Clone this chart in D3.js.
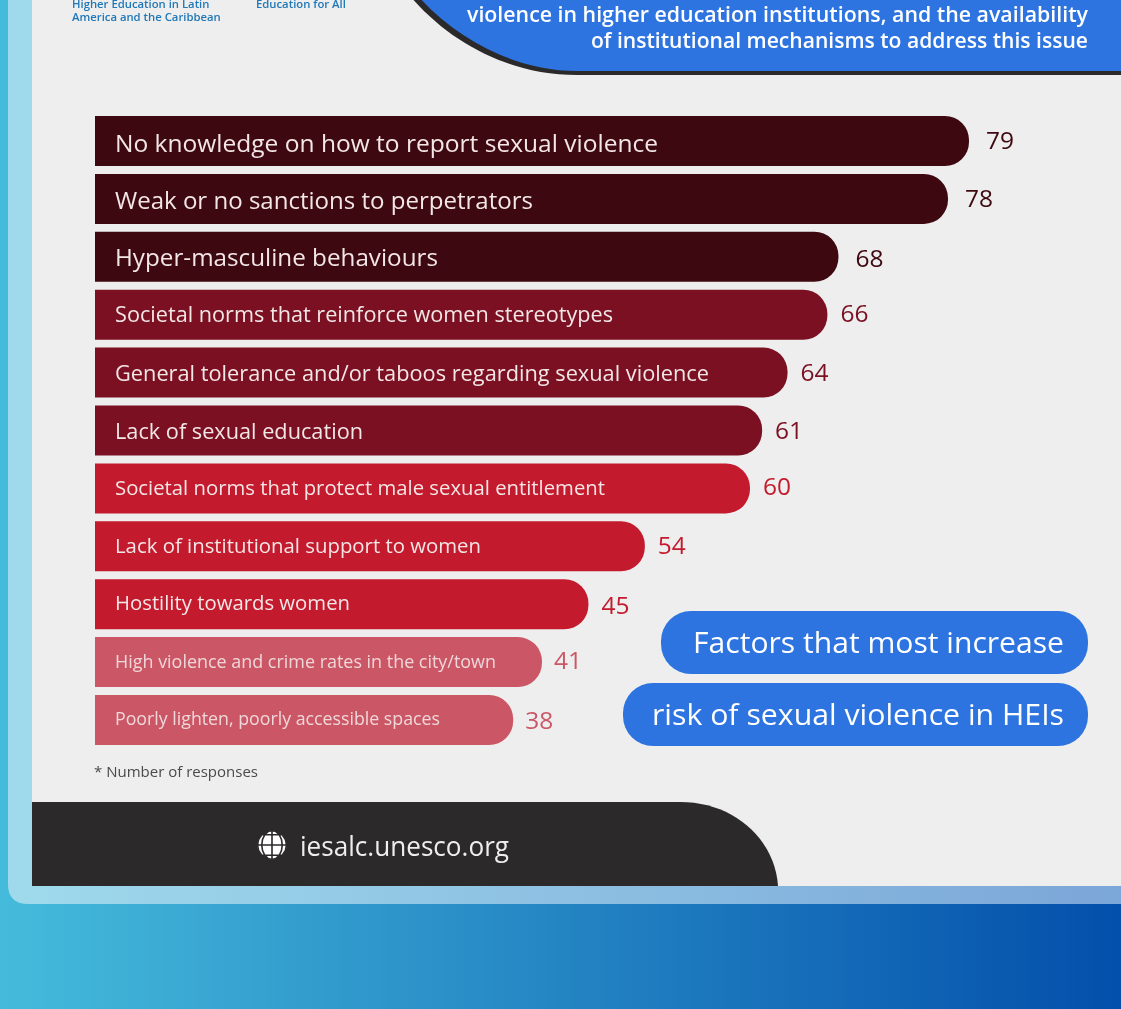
<!DOCTYPE html>
<html>
<head>
<meta charset="utf-8">
<script src="https://cdn.jsdelivr.net/npm/d3@7"></script>
<style>
  html, body { margin: 0; padding: 0; background: #0350ab; overflow: hidden; }
  svg { display: block; filter: blur(0.6px); }
  text { font-family: "Open Sans", "Noto Sans", sans-serif; }
</style>
</head>
<body>
<div id="chart"></div>
<script>
const factors = [
  "No knowledge on how to report sexual violence",
  "Weak or no sanctions to perpetrators",
  "Hyper-masculine behaviours",
  "Societal norms that reinforce women stereotypes",
  "General tolerance and/or taboos regarding sexual violence",
  "Lack of sexual education",
  "Societal norms that protect male sexual entitlement",
  "Lack of institutional support to women",
  "Hostility towards women",
  "High violence and crime rates in the city/town",
  "Poorly lighten, poorly accessible spaces"
];
// printed numbers
const responses = [79, 78, 68, 66, 64, 61, 60, 54, 45, 41, 38];
// the bars in the picture are not quite to scale, this is their length as drawn
const drawnLength = [79, 77.1, 67.2, 66.2, 62.6, 60.3, 59.2, 49.7, 44.6, 40.4, 37.8];
const tiers = [0, 0, 0, 1, 1, 1, 2, 2, 2, 3, 3];

const headerLines = [
  "violence in higher education institutions, and the availability",
  "of institutional mechanisms to address this issue"
];
const pillLines = ["Factors that most increase", "risk of sexual violence in HEIs"];
const logoLeft = ["Higher Education in Latin", "America and the Caribbean"];
const logoRight = ["Education for All"];

// styling
const tierColor = ["#3d0810", "#7b1022", "#c41a2d", "#cb5766"];
const tierFont = [24.5, 22, 20.3, 17.8];
const tierGap = [17, 13, 13, 12];
const labelWidth = [543, 418, 323, 498, 594, 248, 490, 366, 235, 381, 325];
const labelShift = [3, 3, 2, 0, 2, 2, 0, 0, -1, 0, -1];
const valueShift = [0, 1, 3, 0, 1, 1, -1, 0, 2, -1, 1];
const headerWidth = [621, 497];
const pillTextWidth = [371, 412];

const width = 1121, height = 1009;
const blue = "#2d74e0";

const svg = d3.select("#chart").append("svg")
    .attr("width", width)
    .attr("height", height);

// background gradients
const defs = svg.append("defs");
const bgGrad = defs.append("linearGradient").attr("id", "bg");
bgGrad.append("stop").attr("offset", "0%").attr("stop-color", "#45bbdb");
bgGrad.append("stop").attr("offset", "100%").attr("stop-color", "#034fab");
const frameGrad = defs.append("linearGradient").attr("id", "frame");
frameGrad.append("stop").attr("offset", "0%").attr("stop-color", "#9fdaec");
frameGrad.append("stop").attr("offset", "100%").attr("stop-color", "#7ba6d8");

svg.append("rect").attr("width", width).attr("height", height).attr("fill", "url(#bg)");
svg.append("path")
    .attr("d", "M8,0V884Q8,904 28,904H1121V0Z")
    .attr("fill", "url(#frame)");
svg.append("rect")
    .attr("x", 32).attr("y", 0)
    .attr("width", width - 32).attr("height", 886)
    .attr("fill", "#eeeeee");

// header blob
svg.append("path").attr("d", "M410,-4C452,45 512,75 577,75H1121V-4Z").attr("fill", "#2b292a");
svg.append("path").attr("d", "M418,-4C458,41 518,71 577,71H1121V-4Z").attr("fill", blue);

svg.append("g").selectAll("text")
  .data(headerLines)
  .join("text")
    .attr("x", 1088)
    .attr("y", (d, i) => 21.5 + i * 26.5)
    .attr("text-anchor", "end")
    .attr("fill", "#fff")
    .attr("font-size", 21)
    .attr("font-weight", 600)
    .attr("textLength", (d, i) => headerWidth[i])
    .attr("lengthAdjust", "spacingAndGlyphs")
    .text(d => d);

// logo captions, cut off by the top of the picture
svg.append("g").selectAll("text")
  .data(logoLeft)
  .join("text")
    .attr("x", 72)
    .attr("y", (d, i) => 7.5 + i * 13)
    .attr("fill", "#1f78b8")
    .attr("font-size", 11.3)
    .attr("font-weight", 600)
    .text(d => d);
svg.append("g").selectAll("text")
  .data(logoRight)
  .join("text")
    .attr("x", 256)
    .attr("y", 7.5)
    .attr("fill", "#1f78b8")
    .attr("font-size", 11.3)
    .attr("font-weight", 600)
    .text(d => d);

// scales
const x = d3.scaleLinear().domain([0, 79]).range([95, 969]);
const y = d3.scaleBand().domain(factors).range([116, 745]).paddingInner(0.136);

function barPath(len, top, h) {
  const r = 24;
  const right = x(len);
  return `M${x(0)},${top}H${right - r}A${r},${r} 0 0 1 ${right},${top + r}V${top + h - r}A${r},${r} 0 0 1 ${right - r},${top + h}H${x(0)}Z`;
}

const rows = factors.map((f, i) => ({
  factor: f, value: responses[i], len: drawnLength[i], tier: tiers[i], i: i
}));

const bars = svg.append("g").selectAll("g")
  .data(rows)
  .join("g");

bars.append("path")
    .attr("d", d => barPath(d.len, y(d.factor), y.bandwidth()))
    .attr("fill", d => tierColor[d.tier]);

bars.append("text")
    .attr("x", 115)
    .attr("y", d => y(d.factor) + y.bandwidth() / 2 + 1 + labelShift[d.i])
    .attr("dominant-baseline", "middle")
    .attr("fill", "#f3e6e6")
    .attr("fill-opacity", d => d.tier === 3 ? 0.9 : 1)
    .attr("font-size", d => tierFont[d.tier])
    .attr("textLength", d => labelWidth[d.i])
    .attr("lengthAdjust", "spacingAndGlyphs")
    .text(d => d.factor);

bars.append("text")
    .attr("x", d => x(d.len) + tierGap[d.tier])
    .attr("y", d => y(d.factor) + y.bandwidth() / 2 + 1 + valueShift[d.i])
    .attr("dominant-baseline", "middle")
    .attr("fill", d => tierColor[d.tier])
    .attr("font-size", 24.5)
    .attr("font-weight", 500)
    .text(d => d.value);

svg.append("text")
    .attr("x", 94)
    .attr("y", 777)
    .attr("fill", "#4a4a4a")
    .attr("font-size", 15)
    .text("* Number of responses");

// pills
const pillX = [661, 623];
const pillY = [611, 683];
const pills = svg.append("g").selectAll("g").data(pillLines).join("g");
pills.append("rect")
    .attr("x", (d, i) => pillX[i])
    .attr("y", (d, i) => pillY[i])
    .attr("width", (d, i) => 1088 - pillX[i])
    .attr("height", 63)
    .attr("rx", 30)
    .attr("fill", blue);
pills.append("text")
    .attr("x", 1064)
    .attr("y", (d, i) => pillY[i] + 41.5)
    .attr("text-anchor", "end")
    .attr("fill", "#fff")
    .attr("font-size", 29.8)
    .attr("font-weight", 500)
    .attr("textLength", (d, i) => pillTextWidth[i])
    .attr("lengthAdjust", "spacingAndGlyphs")
    .text(d => d);

// footer
svg.append("path")
    .attr("d", "M32,802H680C735,802 775,840 778,886H32Z")
    .attr("fill", "#2b292a");

const globe = d3.geoOrthographic().scale(14.5).translate([272, 845]).rotate([0, 0]);
const globePath = d3.geoPath(globe);
svg.append("path").datum({type: "Sphere"}).attr("d", globePath).attr("fill", "#fff");
svg.append("path")
    .datum(d3.geoGraticule().step([45, 45])())
    .attr("d", globePath)
    .attr("fill", "none")
    .attr("stroke", "#2b292a")
    .attr("stroke-width", 1.6);

svg.append("text")
    .attr("x", 300)
    .attr("y", 856)
    .attr("fill", "#eeeeee")
    .attr("font-size", 28)
    .attr("textLength", 209)
    .attr("lengthAdjust", "spacingAndGlyphs")
    .text("iesalc.unesco.org");
</script>
</body>
</html>
